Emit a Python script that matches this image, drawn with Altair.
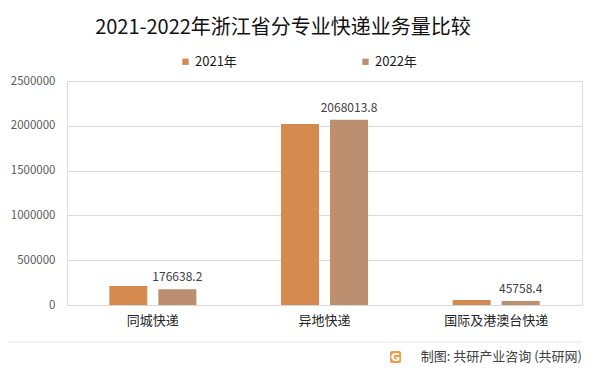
import altair as alt
import pandas as pd

categories = ["同城快递", "异地快递", "国际及港澳台快递"]
years = ["2021年", "2022年"]
v2021 = [212000, 2020000, 55000]
v2022 = [176638.2, 2068013.8, 45758.4]
labels2022 = ["176638.2", "2068013.8", "45758.4"]
y_ticks = [0, 500000, 1000000, 1500000, 2000000, 2500000]
colors = ["#D58B4F", "#BB8F6F"]

FONT = "Noto Sans CJK SC"

rows = []
for c, a, b, l in zip(categories, v2021, v2022, labels2022):
    rows.append({"cat": c, "year": years[0], "value": a, "label": ""})
    rows.append({"cat": c, "year": years[1], "value": b, "label": l})
df = pd.DataFrame(rows)

x_enc = alt.X(
    "cat:N", sort=categories, title=None,
    scale=alt.Scale(paddingInner=0.493, paddingOuter=0.2465),
    axis=alt.Axis(labelAngle=0, labelFontSize=13, labelColor="#262626", labelFont=FONT,
                  labelPadding=9, ticks=False, domain=False, grid=False),
)
xoff = alt.XOffset("year:N", sort=years, scale=alt.Scale(paddingInner=0.224, paddingOuter=0))
y_enc = alt.Y(
    "value:Q", title=None,
    scale=alt.Scale(domain=[0, 2500000], nice=False),
    axis=alt.Axis(values=y_ticks, format="d", labelFontSize=11.5, labelColor="#595959",
                  labelFont=FONT, labelPadding=12, ticks=False, domain=False,
                  gridColor="#d9d9d9", gridWidth=1),
)

bars = alt.Chart(df).mark_bar().encode(
    x=x_enc, xOffset=xoff, y=y_enc,
    color=alt.Color(
        "year:N", sort=years, title=None,
        scale=alt.Scale(domain=years, range=colors),
        legend=alt.Legend(orient="none", legendX=112, legendY=-26, direction="horizontal",
                          symbolType="square", symbolSize=40, symbolStrokeWidth=0,
                          labelFontSize=13, labelFont=FONT, labelColor="#1a1a1a",
                          columnPadding=122, labelOffset=3),
    ),
)

texts = alt.Chart(df).mark_text(baseline="bottom", dy=-5, fontSize=12, font=FONT, color="#404040").encode(
    x=x_enc, xOffset=xoff, y=y_enc, text="label:N",
)

title = alt.Chart(pd.DataFrame({"t": ["2021-2022年浙江省分专业快递业务量比较"]})).mark_text(
    fontSize=20, font=FONT, color="#111111", align="center", baseline="middle"
).encode(x=alt.value(216), y=alt.value(-53), text="t:N")

sep = alt.Chart(pd.DataFrame({"a": [0]})).mark_rule(color="#e6e6e6", strokeWidth=1).encode(
    x=alt.value(-59), x2=alt.value(515), y=alt.value(261)
)

logo = alt.Chart(pd.DataFrame({"a": [0]})).mark_rect(color="#F39A4A", cornerRadius=2).encode(
    x=alt.value(323), x2=alt.value(334), y=alt.value(270), y2=alt.value(282)
)
logo_g = alt.Chart(pd.DataFrame({"t": ["G"]})).mark_text(
    fontSize=11, fontWeight="bold", font="DejaVu Sans", color="white", align="center", baseline="middle"
).encode(x=alt.value(328.5), y=alt.value(276.5), text="t:N")

footer = alt.Chart(pd.DataFrame({"t": ["制图: 共研产业咨询 (共研网)"]})).mark_text(
    fontSize=13, font=FONT, color="#404040", align="right", baseline="middle"
).encode(x=alt.value(515), y=alt.value(276), text="t:N")

chart = alt.layer(bars, texts, title, sep, logo, logo_g, footer).properties(
    width=515, height=224,
    autosize=alt.AutoSizeParams(type="none"),
    padding={"left": 59, "top": 73, "right": 7, "bottom": 60},
).configure_view(stroke=None).configure(background="white")

chart.save("out.html", embed_options={"renderer": "svg", "actions": False})
